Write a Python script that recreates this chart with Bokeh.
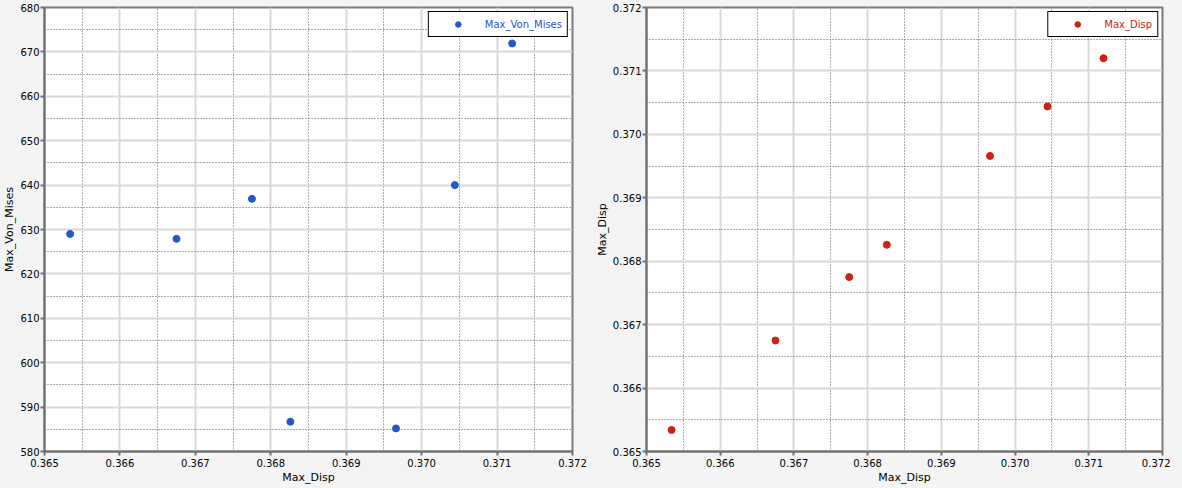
from bokeh.plotting import figure
from bokeh.layouts import row
from bokeh.models import FixedTicker, PrintfTickFormatter
from bokeh.embed import file_html
from bokeh.resources import INLINE
from jinja2 import Template

# ---- data ----
max_disp = [0.36534, 0.36675, 0.36775, 0.36826, 0.36966, 0.37044, 0.37120]
max_von_mises = [629.0, 627.9, 636.9, 586.7, 585.2, 640.0, 671.9]
disp_ticks = [0.365, 0.366, 0.367, 0.368, 0.369, 0.370, 0.371, 0.372]
vm_ticks = [580, 590, 600, 610, 620, 630, 640, 650, 660, 670, 680]

BG = "#f4f4f4"
BLUE = "#2456d0"
RED = "#cc2214"
FONT = "DejaVu Sans"


def mids(t):
    return [(a + b) / 2 for a, b in zip(t[:-1], t[1:])]


def style(p, xt, yt, yfmt):
    p.background_fill_color = "white"
    p.border_fill_color = BG
    p.outline_line_color = "#7a7a7a"
    p.outline_line_width = 2
    p.xaxis.ticker = FixedTicker(ticks=xt, minor_ticks=mids(xt))
    p.yaxis.ticker = FixedTicker(ticks=yt, minor_ticks=mids(yt))
    p.xaxis.formatter = PrintfTickFormatter(format="%.3f")
    p.yaxis.formatter = PrintfTickFormatter(format=yfmt)
    for ax in (p.xaxis[0], p.yaxis[0]):
        ax.axis_line_color = "#707070"
        ax.axis_line_width = 2
        ax.major_tick_out = 4
        ax.major_tick_in = 0
        ax.major_tick_line_color = "#707070"
        ax.major_tick_line_width = 2
        ax.minor_tick_out = 0
        ax.minor_tick_in = 0
        ax.major_label_text_font = FONT
        ax.major_label_text_font_size = "10px"
        ax.major_label_text_color = "black"
        ax.axis_label_text_font = FONT
        ax.axis_label_text_font_size = "11px"
        ax.axis_label_text_font_style = "normal"
        ax.axis_label_text_color = "black"
        ax.axis_label_standoff = 1
        ax.major_label_standoff = 1
    p.xaxis.major_label_standoff = 3
    for g in (p.xgrid[0], p.ygrid[0]):
        g.grid_line_color = "#d8d8d8"
        g.grid_line_width = 2
        g.minor_grid_line_color = "#5a5a5a"
        g.minor_grid_line_dash = "1 2"
        g.minor_grid_line_width = 1


def legend_style(p, color):
    lg = p.legend[0]
    lg.location = "top_right"
    lg.margin = 4
    lg.padding = 5
    lg.spacing = 0
    lg.glyph_width = 48
    lg.glyph_height = 14
    lg.label_height = 14
    lg.label_standoff = 3
    lg.border_line_color = "black"
    lg.border_line_width = 1
    lg.border_line_alpha = 1
    lg.background_fill_color = "white"
    lg.background_fill_alpha = 1
    lg.label_text_font = FONT
    lg.label_text_font_size = "10px"
    lg.label_text_color = color


p1 = figure(frame_width=528, frame_height=444, output_backend="svg", toolbar_location=None,
            x_range=(0.365, 0.372), y_range=(580, 680),
            x_axis_label="Max_Disp", y_axis_label="Max_Von_Mises",
            min_border_left=30, min_border_right=16, min_border_top=7, min_border_bottom=30)
style(p1, disp_ticks, vm_ticks, "%d")
p1.scatter(max_disp, max_von_mises, size=7, color=BLUE, legend_label="Max_Von_Mises")
legend_style(p1, BLUE)

p2 = figure(frame_width=516, frame_height=444, output_backend="svg", toolbar_location=None,
            x_range=(0.365, 0.372), y_range=(0.365, 0.372),
            x_axis_label="Max_Disp", y_axis_label="Max_Disp",
            min_border_left=58, min_border_right=8, min_border_top=7, min_border_bottom=30)
style(p2, disp_ticks, disp_ticks, "%.3f")
p2.scatter(max_disp, max_disp, size=7, color=RED, legend_label="Max_Disp")
legend_style(p2, RED)

layout = row(p1, p2, spacing=0, styles={"background-color": BG})

template = Template("""{% extends base %}
{% block preamble %}<style>html, body { background: #f4f4f4; }</style>{% endblock %}""")

with open("out.html", "w") as f:
    f.write(file_html(layout, INLINE, template=template))
